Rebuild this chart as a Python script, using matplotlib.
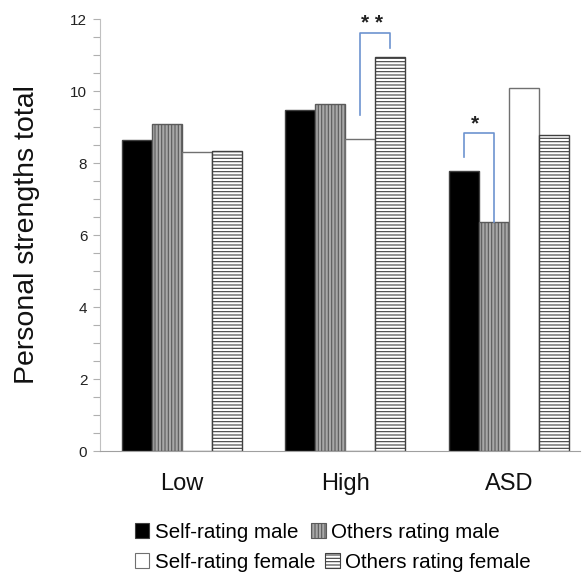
import matplotlib
matplotlib.use("Agg")
import matplotlib.pyplot as plt
import matplotlib.patches as mpatches
import matplotlib.ticker as mticker
import numpy as np

plt.rcParams["font.family"] = ["Liberation Sans", "DejaVu Sans"]
plt.rcParams["hatch.linewidth"] = 0.8

# ── Data ─────────────────────────────────────────────────────────────────────
groups = ["Low", "High", "ASD"]
series = ["Self-rating male", "Others rating male",
          "Self-rating female", "Others rating female"]
self_male = [8.64, 9.47, 7.78]
others_male = [9.08, 9.64, 6.36]
self_female = [8.31, 8.67, 10.08]
others_female = [8.33, 10.94, 8.78]

# significance brackets: (group, bar_a, bar_b, y_a, y_b, top, label)
brackets = [
    (1, 2, 3, 9.33, 11.2, 11.6, "* *"),
    (2, 0, 1, 8.17, 6.36, 8.83, "*"),
]

# ── Styling ──────────────────────────────────────────────────────────────────
styles = [
    dict(facecolor="black", edgecolor="#404040", hatch=None),
    dict(facecolor="#a8a8a8", edgecolor="#5a5a5a", hatch="|||||"),
    dict(facecolor="white", edgecolor="#707070", hatch=None),
    dict(facecolor="white", edgecolor="#404040", hatch="-----"),
]
_BLUE = "#6d93cf"

fig = plt.figure(figsize=(5.87, 5.76), dpi=100)
ax = fig.add_axes([0.170, 0.217, 0.818, 0.750])

x = np.arange(len(groups))
w = 0.184
values = [self_male, others_male, self_female, others_female]
offsets = (np.arange(4) - 1.5) * w

for vals, off, st in zip(values, offsets, styles):
    ax.bar(x + off, vals, width=w, linewidth=1.0, zorder=2, **st)

for g, a, b, ya, yb, top, label in brackets:
    xa, xb = x[g] + offsets[a], x[g] + offsets[b]
    ax.plot([xa, xa, xb, xb], [ya, top, top, yb], color=_BLUE, lw=1.2, zorder=3)
    ax.text((xa + xb) / 2 - 0.02, top + 0.0, label, ha="center", va="bottom",
            fontsize=15, fontweight="bold", color="#222222")

ax.set_xlim(-0.503, 2.436)
ax.set_ylim(0, 12)
ax.yaxis.set_major_locator(mticker.MultipleLocator(2))
ax.yaxis.set_minor_locator(mticker.MultipleLocator(0.5))
ax.tick_params(axis="y", which="both", colors="#b0b0b0", labelcolor="#222222",
               labelsize=11, length=5, width=0.8, pad=4)
ax.tick_params(axis="x", length=0, labelsize=17, pad=16, labelcolor="#111111")
ax.set_xticks(x)
ax.set_xticklabels(groups)
for s in ("top", "right"):
    ax.spines[s].set_visible(False)
ax.spines["left"].set_color("#c0c0c0")
ax.spines["bottom"].set_color("#a0a0a0")
ax.set_ylabel("Personal strengths total", fontsize=20.5, color="#111111", labelpad=22)

handles = [mpatches.Patch(linewidth=0.8, label=lab, **st)
           for lab, st in zip(series, styles)]

# each legend row is laid out on its own, like running text
rows = [([0, 1], 532, 0.65), ([2, 3], 562, 0.5)]
for idx, ypix, gap in rows:
    fig.legend([handles[i] for i in idx], [series[i] for i in idx],
               ncol=2, loc="center left",
               bbox_to_anchor=(135 / 587, 1 - ypix / 576),
               frameon=False, fontsize=14.8, handlelength=0.7, handleheight=0.7,
               handletextpad=0.25, columnspacing=gap, borderaxespad=0,
               borderpad=0)

fig.savefig("out.png", dpi=100, facecolor="white")
